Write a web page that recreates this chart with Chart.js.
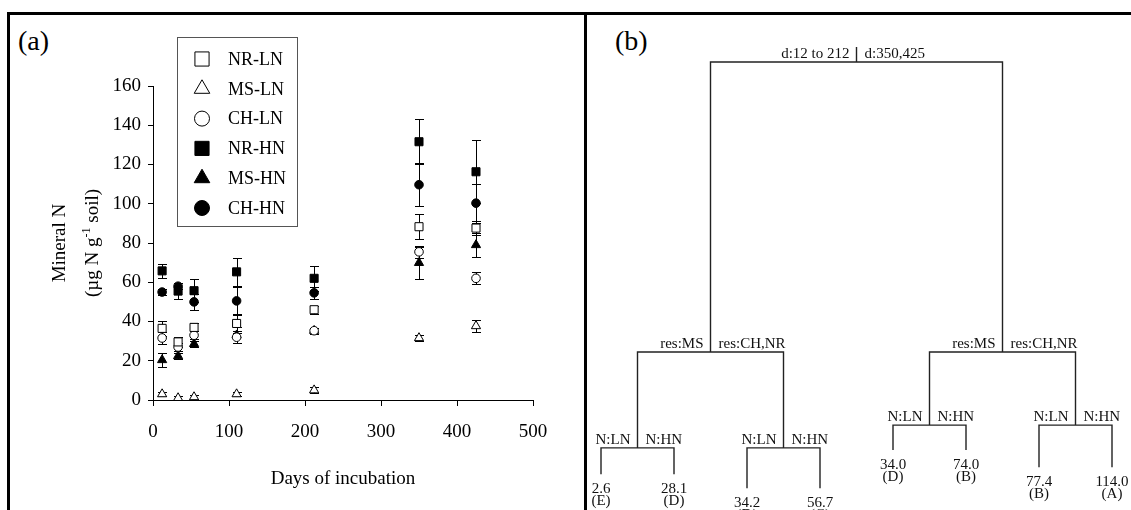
<!DOCTYPE html>
<html>
<head>
<meta charset="utf-8">
<script src="https://cdn.jsdelivr.net/npm/chart.js@4.4.1/dist/chart.umd.min.js"></script>
<style>
  html, body { margin: 0; padding: 0; background: #fff; }
  body { width: 1131px; height: 510px; position: relative; overflow: hidden;
         font-family: "Liberation Serif", "Times New Roman", serif; }
  #frame { position: absolute; left: 7px; top: 12px; width: 1130px; height: 600px;
           border-top: 3px solid #000; border-left: 3px solid #000; }
  #divider { position: absolute; left: 584px; top: 12px; width: 3px; height: 600px; background: #000; }
  .tag { position: absolute; top: 27px; font-size: 28px; line-height: 1; color: #000; }
  #wrapA { position: absolute; left: 10px; top: 16px; width: 573px; height: 494px; }
  #wrapB { position: absolute; left: 587px; top: 16px; width: 544px; height: 494px; }
</style>
</head>
<body>
<div id="frame"></div>
<div id="divider"></div>
<div class="tag" style="left:18px">(a)</div>
<div class="tag" style="left:615px">(b)</div>
<div id="wrapA"><canvas id="chartMineral"></canvas></div>
<div id="wrapB"><canvas id="chartTree"></canvas></div>

<script>
// ---- (a) mineral N over incubation ----
const days = [12, 33, 54, 110, 212, 350, 425];

const nrLN = [36.5, 29.6, 37.0, 39.0, 46.0, 88.3, 87.6];
const msLN = [3.0, 1.0, 1.5, 3.0, 5.0, 31.6, 37.7];
const chLN = [31.6, 27.0, 33.0, 32.0, 35.3, 75.5, 62.0];
const nrHN = [65.8, 55.5, 55.7, 65.3, 62.0, 131.6, 116.3];
const msHN = [20.4, 22.4, 28.6, 33.0, 35.3, 69.9, 79.0];
const chHN = [55.0, 58.0, 50.0, 50.5, 54.6, 109.7, 100.3];

// standard errors
const nrLNErr = [4.0, 2.5, 2.0, 5.0, 2.0, 6.5, 3.5];
const msLNErr = [1.0, 1.0, 1.0, 1.0, 1.5, 1.5, 3.0];
const chLNErr = [3.0, 2.0, 2.0, 3.0, 1.5, 3.0, 3.0];
const nrHNErr = [3.5, 4.0, 6.0, 7.0, 6.5, 11.5, 16.0];
const msHNErr = [3.5, 1.5, 1.5, 4.0, 1.5, 8.0, 6.0];
const chHNErr = [1.5, 1.5, 4.0, 7.0, 3.0, 11.0, 10.0];

const xTicks = [0, 100, 200, 300, 400, 500];
const yTicks = [0, 20, 40, 60, 80, 100, 120, 140, 160];

// ---- (b) regression tree ----
// internal nodes in heap order (1..7): left / right split text
const splitLeft  = ['d:12 to 212', 'res:MS', 'res:MS', 'N:LN', 'N:LN', 'N:LN', 'N:LN'];
const splitRight = ['d:350,425', 'res:CH,NR', 'res:CH,NR', 'N:HN', 'N:HN', 'N:HN', 'N:HN'];
// branch heights for nodes 1..15 (root = 100)
const nodeHeight = [100, 33.8, 33.8, 11.9, 11.9, 17.1, 17.1, 5.9, 5.9, 2.7, 2.7, 11.4, 11.4, 7.5, 7.5];
const leafMeans = [2.6, 28.1, 34.2, 56.7, 34.0, 74.0, 77.4, 114.0];
const leafGroups = ['E', 'D', 'D', 'C', 'D', 'B', 'B', 'A'];

const serif = '"Liberation Serif", "Times New Roman", serif';

function series(label, values, style, filled, radius) {
    return {
        label: label,
        data: days.map((d, i) => ({ x: d, y: values[i] })),
        pointStyle: style,
        pointRadius: radius,
        pointBackgroundColor: filled ? '#000' : '#fff',
        pointBorderColor: '#000',
        pointBorderWidth: 1,
        showLine: false
    };
}

const mineralData = {
    datasets: [
        series('NR-LN', nrLN, 'rect', false, 5.7),
        series('MS-LN', msLN, 'triangle', false, 5.3),
        series('CH-LN', chLN, 'circle', false, 4.3),
        series('NR-HN', nrHN, 'rect', true, 5.7),
        series('MS-HN', msHN, 'triangle', true, 5.3),
        series('CH-HN', chHN, 'circle', true, 4.3)
    ]
};
const errorSets = [nrLNErr, msLNErr, chLNErr, nrHNErr, msHNErr, chHNErr];
const legendRadius = { rect: 10, triangle: 9, circle: 7.5 };

function marker(ctx, style, fill, x, y, r) {
    ctx.fillStyle = fill;
    ctx.strokeStyle = '#000';
    ctx.lineWidth = 1;
    if (Chart.helpers && Chart.helpers.drawPoint) {
        Chart.helpers.drawPoint(ctx, { pointStyle: style, radius: r, rotation: 0, borderWidth: 1 }, x, y);
        return;
    }
    ctx.beginPath();
    if (style === 'circle') ctx.arc(x, y, r, 0, Math.PI * 2);
    else if (style === 'rect') { const s = r * Math.SQRT1_2; ctx.rect(x - s, y - s, 2 * s, 2 * s); }
    else {
        ctx.moveTo(x, y - r);
        ctx.lineTo(x + r * 0.866, y + r / 2);
        ctx.lineTo(x - r * 0.866, y + r / 2);
        ctx.closePath();
    }
    ctx.fill();
    ctx.stroke();
}

const errorBars = {
    id: 'errorBars',
    beforeDatasetsDraw(chart) {
        const ctx = chart.ctx, ys = chart.scales.y;
        ctx.save();
        ctx.strokeStyle = '#000';
        ctx.lineWidth = 1;
        chart.data.datasets.forEach((ds, di) => {
            chart.getDatasetMeta(di).data.forEach((pt, i) => {
                const v = ds.data[i].y, e = errorSets[di][i];
                const px = Math.round(pt.x) + 0.5;
                const top = Math.round(ys.getPixelForValue(v + e)) + 0.5;
                const bot = Math.round(ys.getPixelForValue(v - e)) + 0.5;
                ctx.beginPath();
                ctx.moveTo(px, top); ctx.lineTo(px, bot);
                ctx.moveTo(px - 4.5, top); ctx.lineTo(px + 4.5, top);
                ctx.moveTo(px - 4.5, bot); ctx.lineTo(px + 4.5, bot);
                ctx.stroke();
            });
        });
        ctx.restore();
    }
};

const boxLegend = {
    id: 'boxLegend',
    afterDraw(chart) {
        const ctx = chart.ctx;
        ctx.save();
        ctx.fillStyle = '#fff';
        ctx.fillRect(167, 21, 120, 189);
        ctx.strokeStyle = '#555';
        ctx.lineWidth = 1;
        ctx.strokeRect(167.5, 21.5, 120, 189);
        chart.data.datasets.forEach((ds, i) => {
            const cy = 43 + i * 29.8;
            marker(ctx, ds.pointStyle, ds.pointBackgroundColor, 192, cy, legendRadius[ds.pointStyle]);
            ctx.fillStyle = '#000';
            ctx.font = '18px ' + serif;
            ctx.textBaseline = 'middle';
            ctx.textAlign = 'left';
            ctx.fillText(ds.label, 218, cy + 1);
        });
        ctx.restore();
    }
};

// two-line rotated y title with superscript
const yTitle = {
    id: 'yTitle',
    afterDraw(chart) {
        const ctx = chart.ctx, area = chart.chartArea;
        const cy = (area.top + area.bottom) / 2;
        ctx.save();
        ctx.fillStyle = '#000';
        ctx.textBaseline = 'alphabetic';
        ctx.translate(55, cy);
        ctx.rotate(-Math.PI / 2);
        ctx.font = '19px ' + serif;
        ctx.textAlign = 'center';
        ctx.fillText('Mineral N', 0, 0);
        ctx.restore();

        ctx.save();
        ctx.fillStyle = '#000';
        ctx.textBaseline = 'alphabetic';
        ctx.textAlign = 'left';
        ctx.translate(88, cy);
        ctx.rotate(-Math.PI / 2);
        const a = '(\u00b5g N g', sup = '-1', b = ' soil)';
        ctx.font = '19px ' + serif;
        const wa = ctx.measureText(a).width, wb = ctx.measureText(b).width;
        ctx.font = '12px ' + serif;
        const ws = ctx.measureText(sup).width;
        let x0 = -(wa + ws + wb) / 2;
        ctx.font = '19px ' + serif;
        ctx.fillText(a, x0, 0);
        ctx.font = '12px ' + serif;
        ctx.fillText(sup, x0 + wa, -8);
        ctx.font = '19px ' + serif;
        ctx.fillText(b, x0 + wa + ws, 0);
        ctx.restore();
    }
};

const axisFont = { family: serif, size: 19 };

const chartMineral = new Chart(document.getElementById('chartMineral').getContext('2d'), {
    type: 'scatter',
    data: mineralData,
    options: {
        animation: false,
        responsive: true,
        maintainAspectRatio: false,
        layout: { padding: { left: 0, top: 70, right: 50, bottom: 0 } },
        plugins: { legend: { display: false }, tooltip: { enabled: false } },
        scales: {
            x: {
                type: 'linear',
                min: 0,
                max: 500,
                afterBuildTicks: s => { s.ticks = xTicks.map(v => ({ value: v })); },
                afterFit: s => { s.height = 110; },
                ticks: { color: '#000', font: axisFont, padding: 15 },
                grid: { drawOnChartArea: false, drawTicks: true, tickLength: 6, color: '#000' },
                border: { display: true, color: '#000', width: 1 },
                title: { display: true, text: 'Days of incubation', color: '#000', font: axisFont,
                         padding: { top: 0, bottom: 20 } }
            },
            y: {
                min: 0,
                max: 160,
                afterBuildTicks: s => { s.ticks = yTicks.map(v => ({ value: v })); },
                afterFit: s => { s.width = 143; },
                ticks: { color: '#000', font: axisFont, padding: 7 },
                grid: { drawOnChartArea: false, drawTicks: true, tickLength: 5, color: '#000' },
                border: { display: true, color: '#000', width: 1 }
            }
        }
    },
    plugins: [errorBars, yTitle, boxLegend]
});

// ---- tree layout: leaves evenly spaced, parents centred over children ----
const nodeX = [];
for (let n = 15; n >= 1; n--) {
    nodeX[n] = n >= 8 ? n - 8 : (nodeX[2 * n] + nodeX[2 * n + 1]) / 2;
}
const branchSets = [];
for (let n = 1; n <= 7; n++) {
    const l = 2 * n, r = 2 * n + 1, h = nodeHeight[n - 1];
    branchSets.push({
        data: [
            { x: nodeX[l], y: nodeHeight[l - 1] },
            { x: nodeX[l], y: h },
            { x: nodeX[r], y: h },
            { x: nodeX[r], y: nodeHeight[r - 1] }
        ],
        showLine: true,
        pointRadius: 0,
        borderColor: '#222',
        borderWidth: 1.4,
        tension: 0,
        clip: false
    });
}

const treeLabels = {
    id: 'treeLabels',
    afterDatasetsDraw(chart) {
        const ctx = chart.ctx, xs = chart.scales.x, ys = chart.scales.y;
        ctx.save();
        ctx.fillStyle = '#111';
        ctx.font = '15px ' + serif;
        ctx.textBaseline = 'alphabetic';
        for (let n = 1; n <= 7; n++) {
            const px = xs.getPixelForValue(nodeX[n]);
            const py = ys.getPixelForValue(nodeHeight[n - 1]);
            ctx.textAlign = 'right';
            ctx.fillText(splitLeft[n - 1], px - 7, py - 4);
            ctx.textAlign = 'left';
            ctx.fillText(splitRight[n - 1], px + 8, py - 4);
            if (n === 1) {
                ctx.strokeStyle = '#222';
                ctx.lineWidth = 1.4;
                ctx.beginPath();
                ctx.moveTo(px, py - 15);
                ctx.lineTo(px, py);
                ctx.stroke();
            }
        }
        ctx.textAlign = 'center';
        for (let i = 0; i < 8; i++) {
            const px = xs.getPixelForValue(nodeX[i + 8]);
            const py = ys.getPixelForValue(nodeHeight[i + 7]);
            ctx.fillText(leafMeans[i].toFixed(1), px, py + 19);
            ctx.fillText('(' + leafGroups[i] + ')', px, py + 31);
        }
        ctx.restore();
    }
};

const chartTree = new Chart(document.getElementById('chartTree').getContext('2d'), {
    type: 'scatter',
    data: { datasets: branchSets },
    options: {
        animation: false,
        responsive: true,
        maintainAspectRatio: false,
        layout: { padding: { left: 14, top: 46, right: 19, bottom: 10 } },
        plugins: { legend: { display: false }, tooltip: { enabled: false } },
        scales: {
            x: { type: 'linear', min: 0, max: 7, display: false },
            y: { type: 'linear', min: 0, max: 100, display: false }
        }
    },
    plugins: [treeLabels]
});
</script>
</body>
</html>
